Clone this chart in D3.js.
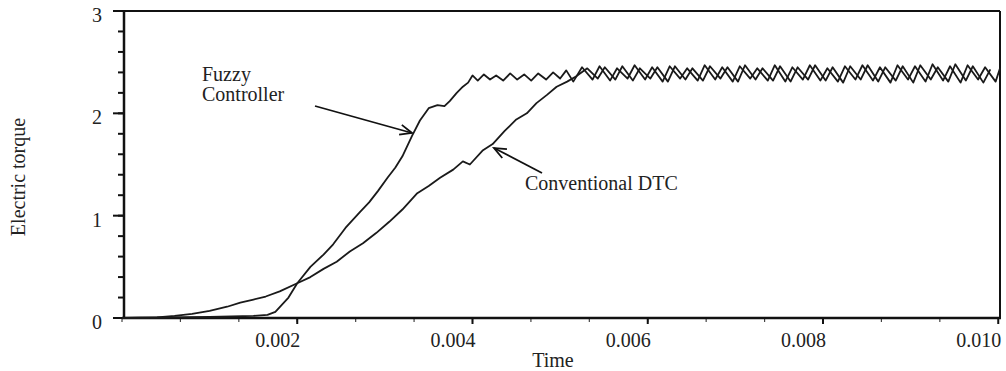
<!DOCTYPE html>
<html><head><meta charset="utf-8">
<script src="https://cdn.jsdelivr.net/npm/d3@7"></script>
<style>
body{margin:0;background:#fff;}
</style></head>
<body><svg id="c" width="1006" height="371" font-family="'Liberation Serif', 'Times New Roman', serif"></svg>
<script>
const xTickValues = [0.002, 0.004, 0.006, 0.008, 0.010];
const xTickLabels = ["0.002", "0.004", "0.006", "0.008", "0.010"];
const yTickValues = [0, 1, 2, 3];
const yTickLabels = ["0", "1", "2", "3"];

const fuzzyTime = [0,0.0005,0.0010,0.0015,0.00166,0.00175,0.00190,0.00200,0.00215,0.00230,0.00241,0.00255,0.00272,0.00282,0.00292,0.00303,0.00312,0.00320,0.00331,0.00340,0.00350,0.00360,0.00368,0.00374,0.00382,0.00389,0.00395,0.00400,
0.00406,0.00413,0.00420,0.00427,0.00435,0.00443,0.00451,0.00459,0.00467,0.00475,0.00484,0.00492,0.00500,0.00507,0.00515,
0.00525,0.00537,0.00545,0.00557,0.00565,0.00577,0.00585,0.00597,0.00605,0.00617,0.00625,0.00637,0.00645,0.00657,0.00665,0.00677,0.00685,0.00697,0.00705,0.00717,0.00725,0.00737,0.00745,0.00757,0.00765,0.00777,0.00785,0.00797,0.00805,0.00817,0.00825,0.00837,0.00845,0.00857,0.00865,0.00877,0.00885,0.00897,0.00905,0.00917,0.00925,0.00937,0.00945,0.00957,0.00965,0.00977,0.00985,0.00997,0.01002];
const fuzzyTorque = [0,0.005,0.01,0.02,0.03,0.06,0.20,0.34,0.50,0.62,0.72,0.88,1.04,1.13,1.24,1.37,1.47,1.58,1.78,1.93,2.05,2.08,2.07,2.12,2.20,2.26,2.30,2.37,
2.32,2.38,2.33,2.37,2.32,2.39,2.33,2.38,2.32,2.39,2.33,2.40,2.34,2.42,2.31,
2.45,2.33,2.46,2.32,2.44,2.34,2.47,2.33,2.45,2.31,2.46,2.34,2.44,2.32,2.47,2.33,2.45,2.31,2.46,2.34,2.44,2.32,2.47,2.31,2.45,2.33,2.47,2.32,2.44,2.31,2.46,2.33,2.47,2.32,2.45,2.30,2.47,2.33,2.46,2.31,2.48,2.32,2.46,2.30,2.47,2.33,2.45,2.31,2.44];

const dtcTime = [0,0.0004,0.0006,0.0008,0.0010,0.0012,0.00135,0.00150,0.00164,0.00180,0.00200,0.00215,0.00230,0.00245,0.00260,0.00275,0.00290,0.00305,0.00320,0.00337,0.00350,0.00363,0.00378,0.00389,0.00397,0.00412,0.00423,0.00437,0.00450,0.00462,0.00473,0.00485,0.00496,0.00508,0.00518,
0.00531,0.00543,0.00551,0.00563,0.00571,0.00583,0.00591,0.00603,0.00611,0.00623,0.00631,0.00643,0.00651,0.00663,0.00671,0.00683,0.00691,0.00703,0.00711,0.00723,0.00731,0.00743,0.00751,0.00763,0.00771,0.00783,0.00791,0.00803,0.00811,0.00823,0.00831,0.00843,0.00851,0.00863,0.00871,0.00883,0.00891,0.00903,0.00911,0.00923,0.00931,0.00943,0.00951,0.00963,0.00971,0.00983,0.00991,0.01002];
const dtcTorque = [0,0.005,0.02,0.04,0.07,0.11,0.15,0.18,0.21,0.26,0.34,0.40,0.48,0.55,0.65,0.73,0.83,0.94,1.06,1.22,1.29,1.37,1.45,1.53,1.50,1.64,1.70,1.83,1.94,2.00,2.10,2.18,2.26,2.31,2.36,
2.44,2.34,2.45,2.33,2.46,2.32,2.44,2.34,2.45,2.31,2.46,2.33,2.44,2.32,2.46,2.34,2.45,2.31,2.47,2.33,2.44,2.32,2.46,2.31,2.45,2.33,2.47,2.32,2.45,2.30,2.46,2.33,2.47,2.31,2.45,2.32,2.46,2.30,2.47,2.33,2.45,2.31,2.48,2.32,2.46,2.30,2.43];

const svg = d3.select("#c");
const x = d3.scaleLinear().domain([0, 0.01002]).range([122, 1000]);
const y = d3.scaleLinear().domain([0, 3]).range([318, 11]);
const txtFill = "#222";

// frame top/right
svg.append("line").attr("x1",122).attr("x2",1000).attr("y1",y(3)).attr("y2",y(3)).attr("stroke","#111").attr("stroke-width",2);
svg.append("line").attr("x1",1000).attr("x2",1000).attr("y1",y(3)).attr("y2",y(0)).attr("stroke","#111").attr("stroke-width",2);

// x minor ticks
const xMinor = d3.range(0, 15).map(i => i * 0.002 / 3);
svg.append("g").selectAll("line").data(xMinor).join("line")
  .attr("x1", d => x(d)).attr("x2", d => x(d)).attr("y1", y(0)).attr("y2", y(0) + 4)
  .attr("stroke", "#444").attr("stroke-width", 1.2);
// x major ticks
svg.append("g").selectAll("line").data(xTickValues).join("line")
  .attr("x1", d => x(d)).attr("x2", d => x(d)).attr("y1", y(0)).attr("y2", y(0) + 6)
  .attr("stroke", "#111").attr("stroke-width", 2);
svg.append("g").selectAll("text").data(xTickValues).join("text")
  .attr("x", d => x(d) + 3).attr("y", 347).attr("text-anchor","end").attr("fill",txtFill)
  .attr("font-size", 20).text((d,i) => xTickLabels[i]);

// y ticks
const yMinor = d3.range(0, 16).map(i => i * 0.2);
svg.append("g").selectAll("line").data(yMinor).join("line")
  .attr("x1", 118).attr("x2", 124).attr("y1", d => y(d)).attr("y2", d => y(d))
  .attr("stroke", "#111").attr("stroke-width", 2);
svg.append("g").selectAll("line").data(yTickValues).join("line")
  .attr("x1", 113).attr("x2", 124).attr("y1", d => y(d)).attr("y2", d => y(d))
  .attr("stroke", "#111").attr("stroke-width", 2);
svg.append("g").selectAll("text").data(yTickValues).join("text")
  .attr("x", 102).attr("y", d => y(d) + 11).attr("text-anchor","end").attr("fill",txtFill)
  .attr("font-size", 20).text((d,i) => yTickLabels[i]);

// axes lines
svg.append("line").attr("x1",124).attr("x2",124).attr("y1",y(3)-1).attr("y2",y(0)+1).attr("stroke","#111").attr("stroke-width",2.5);
svg.append("line").attr("x1",122).attr("x2",1001).attr("y1",y(0)).attr("y2",y(0)).attr("stroke","#111").attr("stroke-width",2.5);

// series
const line = d3.line().x(d => x(d[0])).y(d => y(d[1]));
const fuzzy = fuzzyTime.map((t,i) => [t, fuzzyTorque[i]]);
const dtc = dtcTime.map((t,i) => [t, dtcTorque[i]]);
[dtc, fuzzy].forEach(s => svg.append("path").datum(s).attr("d", line)
  .attr("fill","none").attr("stroke","#1a1a1a").attr("stroke-width",1.8).attr("stroke-linejoin","round"));

// axis titles
svg.append("text").attr("x", 553).attr("y", 367).attr("text-anchor","middle").attr("fill",txtFill).attr("font-size",20).text("Time");
svg.append("text").attr("transform","translate(25,177) rotate(-90)").attr("text-anchor","middle").attr("fill",txtFill).attr("font-size",20).text("Electric torque");

// annotations
svg.append("text").attr("x",202).attr("y",81).attr("font-size",20).attr("fill",txtFill).text("Fuzzy");
svg.append("text").attr("x",202).attr("y",101).attr("font-size",20).attr("fill",txtFill).text("Controller");
svg.append("text").attr("x",525).attr("y",190).attr("font-size",20).attr("fill",txtFill).text("Conventional DTC");

function arrow(x1,y1,x2,y2){
  const g = svg.append("g").attr("stroke","#111").attr("stroke-width",1.8).attr("fill","none");
  g.append("line").attr("x1",x1).attr("y1",y1).attr("x2",x2).attr("y2",y2);
  const a = Math.atan2(y2-y1, x2-x1), L = 13, s = 0.4;
  g.append("path").attr("d", `M${x2 - L*Math.cos(a-s)},${y2 - L*Math.sin(a-s)} L${x2},${y2} L${x2 - L*Math.cos(a+s)},${y2 - L*Math.sin(a+s)}`);
}
arrow(315,106,412,133);
arrow(542,173,494,148);
</script></body></html>
